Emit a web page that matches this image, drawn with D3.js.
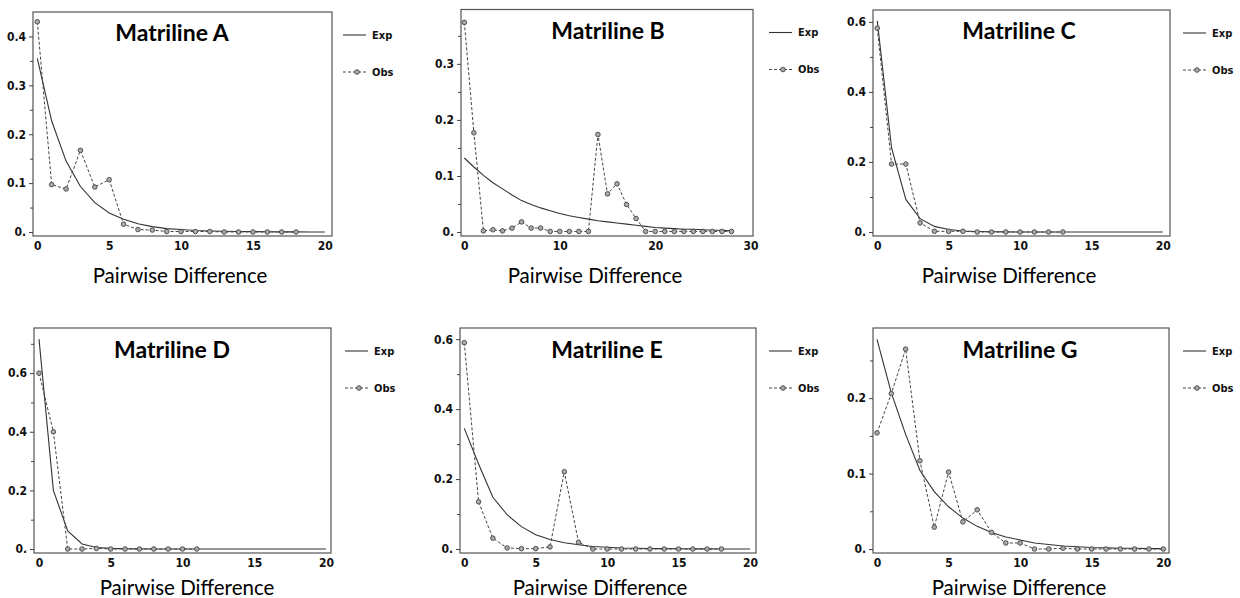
<!DOCTYPE html>
<html>
<head>
<meta charset="utf-8">
<script src="https://cdn.jsdelivr.net/npm/d3@7"></script>
<style>
  body { margin: 0; background: #fff; }
  .tick text { font-family: "Liberation Sans Narrow", "DejaVu Sans Condensed", sans-serif; font-stretch: condensed; font-weight: bold; font-size: 12px; fill: #111; }
  .title { font-family: Lato, "Open Sans", sans-serif; font-weight: bold; font-size: 23px; fill: #000; }
  .xlabel { font-family: Lato, "Open Sans", sans-serif; font-size: 20.5px; fill: #000; }
  .legend text { font-family: "Liberation Sans Narrow", "DejaVu Sans Condensed", sans-serif; font-stretch: condensed; font-weight: bold; font-size: 11px; fill: #111; }
</style>
</head>
<body>
<svg id="chart" width="1240" height="598"></svg>
<script>
// expected / observed mismatch distributions, index = number of pairwise differences
const expA = [0.355, 0.227, 0.145, 0.093, 0.060, 0.039, 0.026, 0.017, 0.011, 0.007, 0.005, 0.003, 0.002, 0.0015, 0.001, 0.0007, 0.0005, 0.0003, 0.0002, 0.0001, 0.0001];
const obsA = [0.430, 0.097, 0.088, 0.167, 0.092, 0.107, 0.016, 0.005, 0.004, 0.001, 0.001, 0.001, 0.001, 0, 0, 0, 0, 0, 0];

const expB = [0.132, 0.116, 0.101, 0.088, 0.077, 0.066, 0.056, 0.049, 0.043, 0.038, 0.033, 0.029, 0.026, 0.023, 0.020, 0.018, 0.016, 0.014, 0.012, 0.010, 0.008, 0.007, 0.006, 0.005, 0.005, 0.004, 0.003, 0.003, 0.002];
const obsB = [0.374, 0.177, 0.002, 0.004, 0.002, 0.007, 0.018, 0.007, 0.007, 0.001, 0.001, 0.001, 0.001, 0.001, 0.174, 0.068, 0.086, 0.049, 0.024, 0.001, 0.001, 0.001, 0.001, 0.001, 0.001, 0.001, 0.001, 0.001, 0.001];

const expC = [0.603, 0.240, 0.093, 0.038, 0.016, 0.007, 0.003, 0.0015, 0.0007, 0.0003, 0.0001, 0, 0, 0, 0, 0, 0, 0, 0, 0, 0];
const obsC = [0.582, 0.194, 0.194, 0.026, 0.002, 0.002, 0.002, 0, 0, 0, 0, 0, 0, 0];

const expD = [0.716, 0.200, 0.062, 0.017, 0.005, 0.002, 0.001, 0.0003, 0.0001, 0, 0, 0, 0, 0, 0, 0, 0, 0, 0, 0, 0];
const obsD = [0.600, 0.400, 0, 0, 0.002, 0, 0, 0, 0, 0, 0, 0];

const expE = [0.345, 0.243, 0.148, 0.098, 0.064, 0.041, 0.027, 0.018, 0.012, 0.007, 0.005, 0.003, 0.002, 0.0015, 0.001, 0.0007, 0.0005, 0.0003, 0.0002, 0.0001, 0.0001];
const obsE = [0.590, 0.135, 0.031, 0.003, 0.001, 0.001, 0.006, 0.221, 0.019, 0, 0, 0, 0, 0, 0, 0, 0, 0, 0];

const expG = [0.278, 0.207, 0.152, 0.104, 0.076, 0.056, 0.041, 0.030, 0.022, 0.016, 0.012, 0.008, 0.006, 0.004, 0.003, 0.002, 0.0015, 0.001, 0.001, 0.0005, 0.0005];
const obsG = [0.154, 0.206, 0.265, 0.117, 0.029, 0.102, 0.036, 0.052, 0.022, 0.008, 0.008, 0, 0, 0.001, 0, 0, 0, 0, 0, 0, 0];

// tick values
const xTicks20 = [0, 5, 10, 15, 20];
const xTicks30 = [0, 10, 20, 30];
const yTicksA = [0, 0.1, 0.2, 0.3, 0.4];
const yMinorA = [0.05, 0.15, 0.25, 0.35];
const yTicksB = [0, 0.1, 0.2, 0.3];
const yMinorB = [0.05, 0.15, 0.25, 0.35];
const yTicksC = [0, 0.2, 0.4, 0.6];
const yMinorC = [0.1, 0.3, 0.5];
const yMinorD = [0.1, 0.3, 0.5, 0.7];
const yTicksG = [0, 0.1, 0.2];
const yMinorG = [0.05, 0.15, 0.25];

const titles = ['Matriline A', 'Matriline B', 'Matriline C', 'Matriline D', 'Matriline E', 'Matriline G'];
const legendNames = ['Exp', 'Obs'];
const xTitle = 'Pairwise Difference';

// panel placement (frame box in px)
const panels = [
  {exp: expA, obs: obsA, L: 33,  T: 12,  R: 332,  B: 236, xDom: [-0.3, 20.5],   yMax: 0.45,  xt: xTicks20, yt: yTicksA, ym: yMinorA, titleX: 172,  labelX: 180,  legX: 343},
  {exp: expB, obs: obsB, L: 461, T: 9.5, R: 753,  B: 236, xDom: [-0.35, 30.25], yMax: 0.397, xt: xTicks30, yt: yTicksB, ym: yMinorB, titleX: 608,  labelX: 595,  legX: 769},
  {exp: expC, obs: obsC, L: 873, T: 10,  R: 1170, B: 236, xDom: [-0.3, 20.5],   yMax: 0.634, xt: xTicks20, yt: yTicksC, ym: yMinorC, titleX: 1019, labelX: 1009, legX: 1183},
  {exp: expD, obs: obsD, L: 34,  T: 328, R: 331,  B: 553, xDom: [-0.35, 20.35], yMax: 0.754, xt: xTicks20, yt: yTicksC, ym: yMinorD, titleX: 172,  labelX: 187,  legX: 345},
  {exp: expE, obs: obsE, L: 460, T: 328, R: 756,  B: 553, xDom: [-0.3, 20.42],  yMax: 0.632, xt: xTicks20, yt: yTicksC, ym: yMinorC, titleX: 607,  labelX: 600,  legX: 769},
  {exp: expG, obs: obsG, L: 873, T: 328, R: 1169, B: 553, xDom: [-0.28, 20.4],  yMax: 0.293, xt: xTicks20, yt: yTicksG, ym: yMinorG, titleX: 1020, labelX: 1019, legX: 1183}
];

const svg = d3.select('#chart');
const yFmt = d => d === 0 ? '0.' : d3.format('.1f')(d);

panels.forEach((p, i) => {
    const g = svg.append('g').attr('class', 'panel');

    const xScale = d3.scaleLinear().domain(p.xDom).range([p.L, p.R]);
    const yScale = d3.scaleLinear().domain([0, p.yMax]).range([p.B - 4, p.T]);

    g.append('rect')
        .attr('x', p.L)
        .attr('y', p.T)
        .attr('width', p.R - p.L)
        .attr('height', p.B - p.T)
        .attr('fill', 'none')
        .attr('stroke', '#555')
        .attr('stroke-width', 1.2);

    // y axis, major + minor ticks
    g.append('g')
        .attr('transform', `translate(${p.L},0)`)
        .call(d3.axisLeft(yScale).tickValues(p.yt).tickFormat(yFmt).tickSize(4).tickPadding(3))
        .call(a => a.select('.domain').remove())
        .call(a => a.selectAll('.tick line').attr('stroke', '#444'));

    g.append('g')
        .attr('transform', `translate(${p.L},0)`)
        .call(d3.axisLeft(yScale).tickValues(p.ym.filter(v => v < p.yMax)).tickFormat('').tickSize(3))
        .call(a => a.select('.domain').remove())
        .call(a => a.selectAll('.tick line').attr('stroke', '#444'));

    g.append('g')
        .attr('transform', `translate(0,${p.B})`)
        .call(d3.axisBottom(xScale).tickValues(p.xt).tickSize(0).tickPadding(5))
        .call(a => a.select('.domain').remove());

    const line = d3.line()
        .x((d, j) => xScale(j))
        .y(d => yScale(d));

    g.append('path')
        .datum(p.exp)
        .attr('d', line)
        .attr('fill', 'none')
        .attr('stroke', '#333')
        .attr('stroke-width', 1.1);

    g.append('path')
        .datum(p.obs)
        .attr('d', line)
        .attr('fill', 'none')
        .attr('stroke', '#444')
        .attr('stroke-width', 1)
        .attr('stroke-dasharray', '3,2');

    g.selectAll('circle')
        .data(p.obs)
        .enter()
        .append('circle')
        .attr('cx', (d, j) => xScale(j))
        .attr('cy', d => yScale(d))
        .attr('r', 2.3)
        .attr('fill', '#aaa')
        .attr('stroke', '#444')
        .attr('stroke-width', 0.9);

    g.append('text')
        .attr('class', 'title')
        .attr('x', p.titleX)
        .attr('y', p.T + (i < 3 ? 29 : 30))
        .attr('text-anchor', 'middle')
        .text(titles[i]);

    g.append('text')
        .attr('class', 'xlabel')
        .attr('x', p.labelX)
        .attr('y', p.B + (i < 3 ? 47 : 42))
        .attr('text-anchor', 'middle')
        .text(xTitle);

    // legend
    const leg = g.append('g').attr('class', 'legend');
    const ly = [p.T + 23, p.T + 60];
    leg.append('line')
        .attr('x1', p.legX).attr('x2', p.legX + 23)
        .attr('y1', ly[0]).attr('y2', ly[0])
        .attr('stroke', '#333').attr('stroke-width', 1.1);
    leg.append('line')
        .attr('x1', p.legX).attr('x2', p.legX + 23)
        .attr('y1', ly[1]).attr('y2', ly[1])
        .attr('stroke', '#444').attr('stroke-width', 1)
        .attr('stroke-dasharray', '3,2');
    leg.append('circle')
        .attr('cx', p.legX + 14).attr('cy', ly[1]).attr('r', 2.3)
        .attr('fill', '#aaa').attr('stroke', '#444').attr('stroke-width', 0.9);
    leg.selectAll('text')
        .data(legendNames)
        .enter()
        .append('text')
        .attr('x', p.legX + 29)
        .attr('y', (d, j) => ly[j])
        .attr('dy', '0.35em')
        .text(d => d);
});
</script>
</body>
</html>
